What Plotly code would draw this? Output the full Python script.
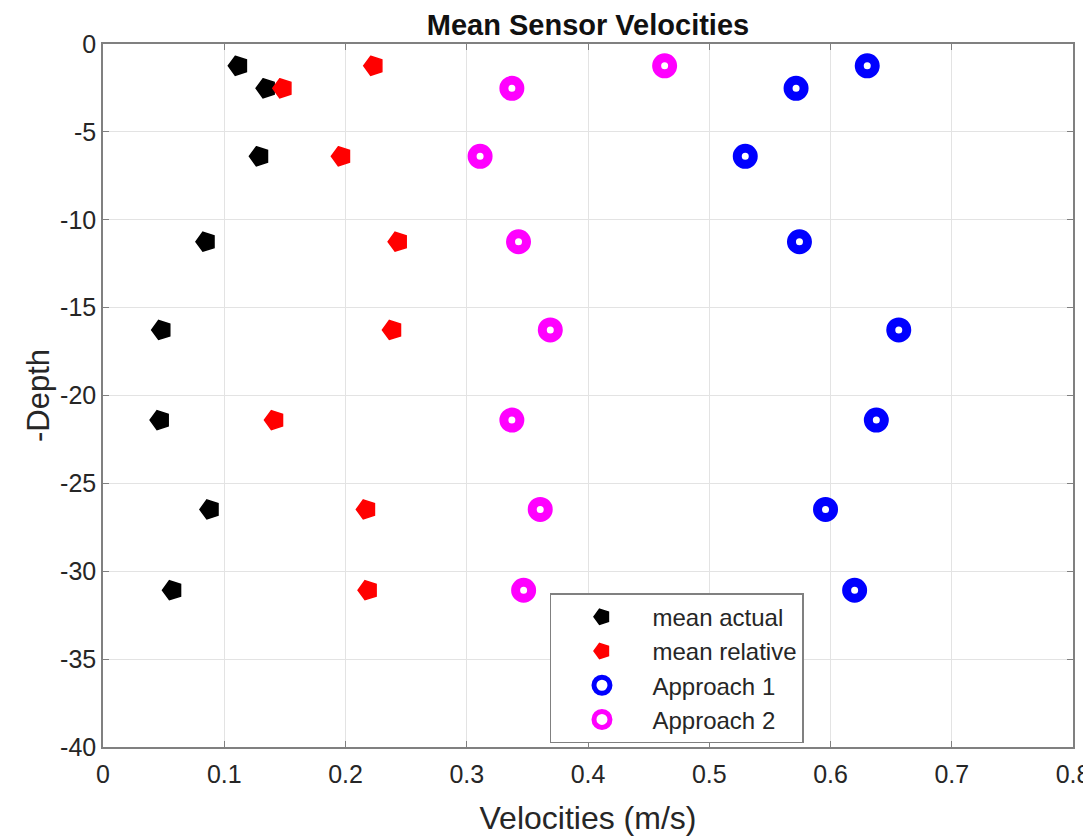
import plotly.graph_objects as go

depth = [-1.24, -2.52, -6.39, -11.25, -16.27, -21.4, -26.48, -31.08]
mean_actual = [0.1116, 0.1345, 0.129, 0.0849, 0.0484, 0.0471, 0.0882, 0.0573]
mean_relative = [0.2233, 0.1483, 0.1966, 0.2434, 0.2387, 0.1414, 0.2172, 0.2186]
approach1 = [0.6303, 0.5716, 0.5297, 0.5744, 0.6563, 0.6378, 0.5959, 0.6199]
approach2 = [0.4632, 0.3372, 0.311, 0.3427, 0.3689, 0.3372, 0.3606, 0.3469]

x_ticks = [0, 0.1, 0.2, 0.3, 0.4, 0.5, 0.6, 0.7, 0.8]
x_ticktext = ["0", "0.1", "0.2", "0.3", "0.4", "0.5", "0.6", "0.7", "0.8"]
y_ticks = [0, -5, -10, -15, -20, -25, -30, -35, -40]
y_ticktext = ["0", "-5", "-10", "-15", "-20", "-25", "-30", "-35", "-40"]

FONT = "Liberation Sans, Arial, Helvetica, sans-serif"
TXT = "#262626"

fig = go.Figure()

def pent(name, xs, color, group):
    fig.add_trace(go.Scatter(
        x=xs, y=depth, mode="markers", name=name, legendgroup=group,
        marker=dict(symbol="pentagon", angle=270, size=20, color=color,
                    line=dict(color=color, width=1.5)),
    ))

def ring(name, xs, color, group):
    fig.add_trace(go.Scatter(
        x=xs, y=depth, mode="markers", name=name, legendgroup=group,
        marker=dict(symbol="circle", size=16, color="white",
                    line=dict(color=color, width=9)),
    ))

pent("mean actual", mean_actual, "#000000", "g1")
pent("mean relative", mean_relative, "#ff0000", "g2")
ring("Approach 1", approach1, "#0000ff", "g3")
ring("Approach 2", approach2, "#ff00ff", "g4")

axis_common = dict(
    showline=True, linecolor="#808080", linewidth=1.5, mirror="ticks",
    ticks="inside", ticklen=6, tickcolor="#808080", tickwidth=1,
    showgrid=True, gridcolor="#e3e3e3", gridwidth=1, zeroline=False,
    automargin=False,
    tickfont=dict(family=FONT, size=25, color=TXT),
)

# The page body has an 8px margin, so the figure is sized to fill the rest.
fig.update_layout(
    width=1083, height=828,
    paper_bgcolor="white", plot_bgcolor="white",
    margin=dict(l=95, r=18, t=36, b=89, autoexpand=False),
    title=dict(text="<b>Mean Sensor Velocities</b>", x=0.5, xref="paper",
               xanchor="center", y=0.980, yref="container", yanchor="middle",
               font=dict(family=FONT, size=29, color="#111111")),
    xaxis=dict(range=[0, 0.8], tickvals=x_ticks, ticktext=x_ticktext,
               ticklabelstandoff=4,
               title=dict(text="Velocities (m/s)", standoff=22,
                          font=dict(family=FONT, size=32, color=TXT)),
               **axis_common),
    yaxis=dict(range=[-40, 0], tickvals=y_ticks, ticktext=y_ticktext,
               title=dict(text="-Depth", standoff=1,
                          font=dict(family=FONT, size=31, color=TXT)),
               **axis_common),
    showlegend=True,
    legend=dict(x=0.4608, y=0.2187, xanchor="left", yanchor="top",
                bgcolor="white", bordercolor="#808080", borderwidth=1.5,
                font=dict(family=FONT, size=24, color=TXT),
                itemwidth=91, tracegroupgap=2, traceorder="normal"),
)

fig.write_html("out.html")
